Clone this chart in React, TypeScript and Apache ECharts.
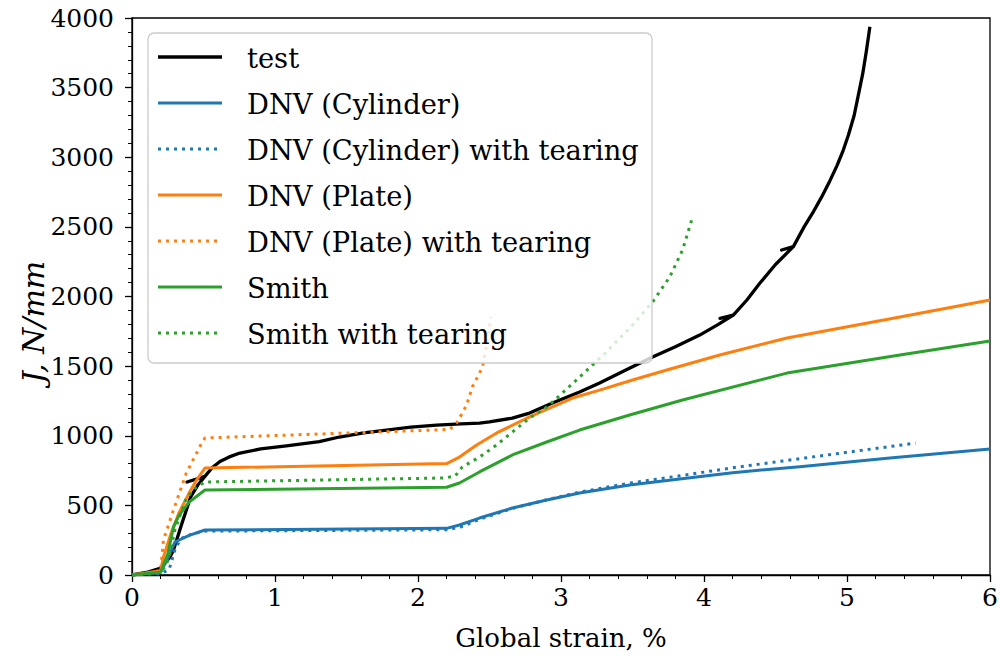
import React, { useEffect, useRef } from "react";
import * as echarts from "echarts";

// J-integral versus global strain: test record and predictions
const testCurve: number[][] = [
  [0, 0], [0.1, 18], [0.196, 48], [0.23, 85], [0.266, 130], [0.29, 180], [0.35, 373],
  [0.41, 560], [0.46, 646], [0.51, 708], [0.385, 668], [0.51, 708], [0.56, 770],
  [0.615, 815], [0.68, 848], [0.755, 876], [0.9, 905], [1.08, 928], [1.31, 958],
  [1.45, 991], [1.62, 1020], [1.78, 1041], [1.95, 1062], [2.13, 1077], [2.3, 1086],
  [2.43, 1091], [2.5, 1099], [2.66, 1127], [2.78, 1163], [2.94, 1235], [3.13, 1314],
  [3.27, 1379], [3.45, 1470], [3.64, 1566], [3.8, 1640], [3.97, 1723], [4.1, 1800],
  [4.205, 1867], [4.112, 1843], [4.205, 1867], [4.3, 1975], [4.39, 2095], [4.5, 2230],
  [4.625, 2358], [4.543, 2334], [4.625, 2358], [4.7, 2500], [4.76, 2600], [4.82, 2710],
  [4.88, 2830], [4.93, 2940], [4.97, 3040], [5.01, 3160], [5.05, 3300], [5.08, 3450],
  [5.11, 3600], [5.135, 3760], [5.16, 3937],
];

const dnvCylinder: number[][] = [
  [0, 0], [0.2, 20], [0.25, 120], [0.3, 237], [0.4, 285], [0.51, 323], [2.2, 335],
  [2.29, 359], [2.43, 409], [2.66, 481], [2.9, 538], [3.13, 589], [3.48, 646],
  [3.83, 690], [4.2, 735], [4.67, 778], [5.3, 840], [6, 905],
];

const dnvCylinderTearing: number[][] = [
  [0, 0], [0.2, 10], [0.26, 40], [0.3, 180], [0.34, 260], [0.42, 295], [0.51, 315],
  [2.2, 325], [2.3, 345], [2.43, 400], [2.66, 478], [2.9, 540], [3.13, 595],
  [3.48, 660], [3.83, 712], [4.2, 770], [4.69, 838], [5.1, 895], [5.48, 947],
];

const dnvPlate: number[][] = [
  [0, 0], [0.2, 30], [0.22, 130], [0.27, 290], [0.33, 450], [0.4, 590], [0.45, 680],
  [0.51, 768], [2.2, 800], [2.29, 847], [2.41, 934], [2.55, 1020], [2.78, 1135],
  [3.08, 1271], [3.27, 1328], [3.5, 1400], [3.74, 1472], [4.11, 1580], [4.58, 1702],
  [5.37, 1853], [6, 1975],
];

const dnvPlateTearing: number[][] = [
  [0, 0], [0.2, 30], [0.22, 251], [0.29, 467], [0.38, 732], [0.48, 933], [0.51, 984],
  [2.22, 1045], [2.27, 1091], [2.31, 1163], [2.34, 1221], [2.38, 1350], [2.45, 1490],
  [2.48, 1650], [2.51, 1853],
];

const smith: number[][] = [
  [0, 0], [0.2, 20], [0.25, 150], [0.29, 345], [0.33, 430], [0.4, 524], [0.51, 610],
  [2.2, 630], [2.29, 661], [2.43, 740], [2.66, 862], [2.9, 955], [3.13, 1041],
  [3.48, 1149], [3.85, 1257], [4.58, 1450], [5.37, 1580], [6, 1680],
];

const smithTearing: number[][] = [
  [0, 0], [0.2, 20], [0.24, 72], [0.27, 180], [0.3, 323], [0.38, 553], [0.45, 632],
  [0.51, 668], [1.73, 689], [2.19, 697], [2.26, 711], [2.31, 776], [2.43, 847],
  [2.55, 934], [2.66, 1027], [2.78, 1127], [2.9, 1206], [3.01, 1307], [3.31, 1594],
  [3.5, 1795], [3.64, 1960], [3.76, 2140], [3.85, 2334], [3.92, 2570],
];

const xTicks = { min: 0, max: 6, step: 1 };
const yTicks = { min: 0, max: 4000, step: 500 };

const FONT = "DejaVu Serif";
const DOT = [3, 5];

const seriesDefs = [
  { name: "test", data: testCurve, color: "#000000", width: 3.3, dash: null },
  { name: "DNV (Cylinder)", data: dnvCylinder, color: "#1f77b4", width: 3, dash: null },
  { name: "DNV (Cylinder) with tearing", data: dnvCylinderTearing, color: "#1f77b4", width: 3, dash: DOT },
  { name: "DNV (Plate)", data: dnvPlate, color: "#ff7f0e", width: 3, dash: null },
  { name: "DNV (Plate) with tearing", data: dnvPlateTearing, color: "#ff7f0e", width: 3, dash: DOT },
  { name: "Smith", data: smith, color: "#2ca02c", width: 3, dash: null },
  { name: "Smith with tearing", data: smithTearing, color: "#2ca02c", width: 3, dash: DOT },
];

export default function App() {
  const ref = useRef<HTMLDivElement>(null);

  useEffect(() => {
    document.body.style.margin = "0";
    if (!ref.current) return;
    const chart = echarts.init(ref.current, undefined, { renderer: "svg" });

    // Legend box drawn as graphic elements, semi-transparent like a framed legend
    const legendLeft = 148;
    const legendTop = 33;
    const rowStart = 57;
    const rowPitch = 46;
    const legendEls: any[] = [
      {
        type: "rect",
        z: 100,
        shape: { x: legendLeft, y: legendTop, width: 504, height: 330, r: 6 },
        style: { fill: "rgba(255,255,255,0.8)", stroke: "#cccccc", lineWidth: 1.3 },
      },
    ];
    seriesDefs.forEach((s, i) => {
      const y = rowStart + i * rowPitch;
      legendEls.push({
        type: "line",
        z: 101,
        shape: { x1: 158, y1: y, x2: 222, y2: y },
        style: {
          stroke: s.color,
          lineWidth: s.width,
          lineDash: s.dash || undefined,
          lineCap: "butt",
        },
      });
      legendEls.push({
        type: "text",
        z: 101,
        x: 247,
        y: y + 1,
        style: {
          text: s.name,
          fill: "#000",
          fontSize: 27.3,
          fontFamily: FONT,
          verticalAlign: "middle",
          align: "left",
        },
      });
    });
    legendEls.push({
      type: "text",
      z: 101,
      x: 33,
      y: 322,
      rotation: Math.PI / 2,
      style: {
        text: "J, N/mm",
        fill: "#000",
        fontSize: 30,
        fontStyle: "italic",
        fontFamily: FONT,
        align: "center",
        verticalAlign: "middle",
      },
    });

    const axisCommon = {
      type: "value" as const,
      splitLine: { show: false },
      axisLine: { show: true, lineStyle: { color: "#000", width: 1.3 } },
      axisTick: { show: true, inside: false, length: 7, lineStyle: { color: "#000", width: 1.3 } },
      minorTick: { show: true, splitNumber: 5, length: 4, lineStyle: { color: "#000", width: 1 } },
      minorSplitLine: { show: false },
    };

    chart.setOption({
      animation: false,
      backgroundColor: "#ffffff",
      grid: {
        left: 132,
        right: 12,
        top: 18,
        bottom: 89,
        show: true,
        borderColor: "#000",
        borderWidth: 1.3,
        backgroundColor: "transparent",
      },
      xAxis: {
        ...axisCommon,
        min: xTicks.min,
        max: xTicks.max,
        interval: xTicks.step,
        name: "Global strain, %",
        nameLocation: "middle",
        nameGap: 50,
        nameTextStyle: { fontSize: 26, fontFamily: FONT, color: "#000" },
        axisLabel: {
          fontSize: 25,
          fontFamily: FONT,
          color: "#000",
          margin: 10,
          formatter: (v: number) => String(v),
        },
      },
      yAxis: {
        ...axisCommon,
        min: yTicks.min,
        max: yTicks.max,
        interval: yTicks.step,
        axisLabel: {
          fontSize: 25,
          fontFamily: FONT,
          color: "#000",
          margin: 18,
          formatter: (v: number) => String(v),
        },
      },
      series: seriesDefs.map((s) => ({
        name: s.name,
        type: "line",
        data: s.data,
        symbol: "none",
        showSymbol: false,
        smooth: false,
        clip: true,
        lineStyle: {
          color: s.color,
          width: s.width,
          type: s.dash ? s.dash : "solid",
          cap: "butt",
          join: "round",
        },
      })),
      graphic: { elements: legendEls },
    });

    return () => {
      chart.dispose();
    };
  }, []);

  return <div ref={ref} style={{ width: 1002, height: 664 }} />;
}
